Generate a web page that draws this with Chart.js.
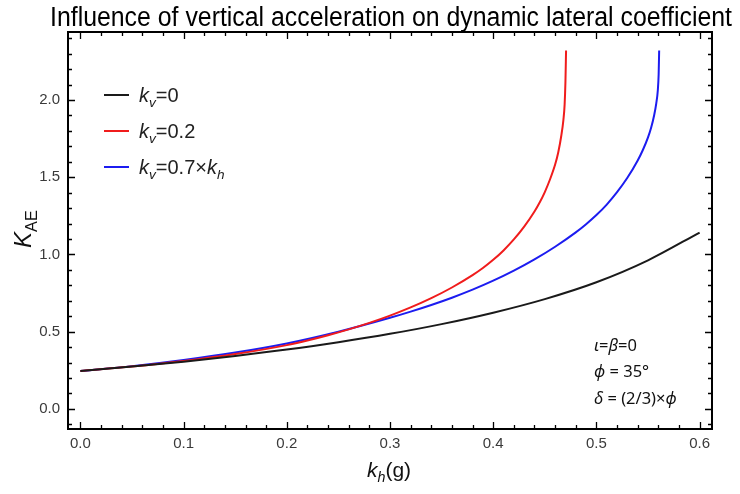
<!DOCTYPE html>
<html>
<head>
<meta charset="utf-8">
<script src="https://cdn.jsdelivr.net/npm/chart.js@4.4.1/dist/chart.umd.min.js"></script>
<style>
  html, body { margin: 0; padding: 0; background: #fff; }
  #wrap { width: 740px; height: 494px; }
</style>
</head>
<body>
<div id="wrap"><canvas id="chart" width="740" height="494"></canvas></div>
<script>
// kv = 0
var khBlack  = [0, 0.05, 0.1, 0.15, 0.2, 0.25, 0.3, 0.35, 0.4, 0.45, 0.5, 0.55, 0.6];
var kaeBlack = [0.245, 0.274, 0.306, 0.343, 0.384, 0.432, 0.486, 0.549, 0.623, 0.711, 0.82, 0.962, 1.142];

// kv = 0.2
var khRed  = [0, 0.05, 0.1, 0.15, 0.2, 0.22, 0.24, 0.26, 0.28, 0.3, 0.32, 0.34, 0.36, 0.38, 0.39, 0.4, 0.41, 0.42, 0.43, 0.44, 0.445, 0.45, 0.455, 0.46, 0.463, 0.466, 0.468, 0.4692, 0.47, 0.4706];
var kaeRed = [0.245, 0.274, 0.31, 0.355, 0.413, 0.443, 0.477, 0.515, 0.557, 0.604, 0.657, 0.717, 0.786, 0.866, 0.912, 0.965, 1.026, 1.097, 1.18, 1.278, 1.336, 1.404, 1.485, 1.582, 1.66, 1.77, 1.87, 1.97, 2.12, 2.32];

// kv = 0.7 x kh
var khBlue  = [0, 0.05, 0.1, 0.15, 0.2, 0.25, 0.3, 0.32, 0.34, 0.36, 0.38, 0.4, 0.42, 0.44, 0.46, 0.48, 0.49, 0.5, 0.51, 0.52, 0.53, 0.54, 0.545, 0.55, 0.553, 0.556, 0.558, 0.5595, 0.5603, 0.5608];
var kaeBlue = [0.245, 0.277, 0.317, 0.365, 0.424, 0.50, 0.59, 0.63, 0.673, 0.72, 0.772, 0.83, 0.895, 0.968, 1.05, 1.143, 1.196, 1.255, 1.323, 1.403, 1.496, 1.608, 1.676, 1.758, 1.82, 1.903, 1.978, 2.063, 2.165, 2.32];

var xTicks = [0, 0.1, 0.2, 0.3, 0.4, 0.5, 0.6];
var yTicks = [0, 0.5, 1.0, 1.5, 2.0];

var titleText = "Influence of vertical acceleration on dynamic lateral coefficient";

function pts(xs, ys) {
  return xs.map(function (x, i) { return { x: x, y: ys[i] }; });
}

// draws text made of parts, some italic and/or subscript
function drawRich(ctx, x, y, parts, size, family, align) {
  var w = 0;
  parts.forEach(function (p) {
    var s = p.sub ? size * 0.68 : size;
    ctx.font = (p.it ? "italic " : "") + s + "px " + family;
    p.w = ctx.measureText(p.t).width;
    w += p.w;
  });
  var cx = align === "center" ? x - w / 2 : x;
  parts.forEach(function (p) {
    var s = p.sub ? size * 0.68 : size;
    ctx.font = (p.it ? "italic " : "") + s + "px " + family;
    ctx.fillText(p.t, cx, y + (p.sub ? size * 0.26 : 0));
    cx += p.w;
  });
}

var framePlugin = {
  id: "frame",
  afterDraw: function (chart) {
    var ctx = chart.ctx, a = chart.chartArea;
    var sx = chart.scales.x, sy = chart.scales.y;
    ctx.save();
    ctx.strokeStyle = "#000";
    ctx.lineWidth = 1.3;
    // x ticks, bottom and top
    for (var i = 0; i <= 30; i++) {
      var px = Math.round(sx.getPixelForValue(i * 0.02)) + 0.5;
      var len = i % 5 === 0 ? 7 : 4;
      ctx.beginPath();
      ctx.moveTo(px, a.bottom); ctx.lineTo(px, a.bottom - len);
      ctx.moveTo(px, a.top); ctx.lineTo(px, a.top + len);
      ctx.stroke();
    }
    // y ticks, left and right
    for (var j = -1; j <= 24; j++) {
      var py = Math.round(sy.getPixelForValue(j * 0.1)) + 0.5;
      var ln = j % 5 === 0 ? 7 : 4;
      ctx.beginPath();
      ctx.moveTo(a.left, py); ctx.lineTo(a.left + ln, py);
      ctx.moveTo(a.right, py); ctx.lineTo(a.right - ln, py);
      ctx.stroke();
    }
    ctx.lineWidth = 2;
    ctx.strokeRect(a.left, a.top, a.right - a.left, a.bottom - a.top);

    // title, squeezed to the width of the reference
    ctx.fillStyle = "#000";
    ctx.textBaseline = "alphabetic";
    ctx.font = "27px 'Liberation Sans Narrow', 'Arial Narrow', 'Liberation Sans', sans-serif";
    var tw = ctx.measureText(titleText).width;
    var k = Math.min(1, 682 / tw);
    ctx.save();
    ctx.translate(391, 26);
    ctx.scale(k, 1);
    ctx.textAlign = "center";
    ctx.fillText(titleText, 0, 0);
    ctx.restore();
    ctx.textAlign = "left";

    // legend
    var fam = "'Liberation Sans', Arial, sans-serif";
    var legend = [
      [{ t: "k", it: true }, { t: "v", it: true, sub: true }, { t: "=0" }],
      [{ t: "k", it: true }, { t: "v", it: true, sub: true }, { t: "=0.2" }],
      [{ t: "k", it: true }, { t: "v", it: true, sub: true }, { t: "=0.7×" }, { t: "k", it: true }, { t: "h", it: true, sub: true }]
    ];
    var ly = [95, 131, 167];
    chart.data.datasets.forEach(function (ds, n) {
      ctx.strokeStyle = ds.borderColor;
      ctx.lineWidth = 2;
      ctx.beginPath();
      ctx.moveTo(104, ly[n]); ctx.lineTo(129, ly[n]);
      ctx.stroke();
      ctx.fillStyle = "#222";
      drawRich(ctx, 139, ly[n] + 7, legend[n], 20, fam, "left");
    });

    // axis titles
    ctx.fillStyle = "#111";
    drawRich(ctx, 389, 477, [{ t: "k", it: true }, { t: "h", it: true, sub: true }, { t: "(g)" }], 21, fam, "center");
    ctx.save();
    ctx.translate(31, 229);
    ctx.rotate(-Math.PI / 2);
    drawRich(ctx, 0, 0, [{ t: "K", it: true }, { t: "AE", sub: true }], 24, fam, "center");
    ctx.restore();

    // parameter notes
    var nf = "'Noto Sans', 'Open Sans', sans-serif";
    ctx.fillStyle = "#111";
    drawRich(ctx, 594, 351, [{ t: "ι", it: true }, { t: "=" }, { t: "β", it: true }, { t: "=0" }], 16.5, nf, "left");
    drawRich(ctx, 594, 377, [{ t: "ϕ", it: true }, { t: " = 35°" }], 16.5, nf, "left");
    drawRich(ctx, 594, 404, [{ t: "δ", it: true }, { t: " = (2/3)×" }, { t: "ϕ", it: true }], 16.5, nf, "left");
    ctx.restore();
  }
};

var tickFont = { family: "'Liberation Sans', Arial, sans-serif", size: 15 };

new Chart(document.getElementById("chart").getContext("2d"), {
  type: "line",
  data: {
    datasets: [
      { label: "kv=0", data: pts(khBlack, kaeBlack), borderColor: "#1a1a1a" },
      { label: "kv=0.2", data: pts(khRed, kaeRed), borderColor: "#f01c1c" },
      { label: "kv=0.7kh", data: pts(khBlue, kaeBlue), borderColor: "#1c1cf0" }
    ]
  },
  options: {
    responsive: false,
    animation: false,
    devicePixelRatio: 1,
    layout: { padding: { top: 32, right: 28, left: 0, bottom: 0 } },
    elements: {
      point: { radius: 0 },
      line: { borderWidth: 2, cubicInterpolationMode: "monotone", fill: false }
    },
    plugins: {
      legend: { display: false },
      title: { display: false },
      tooltip: { enabled: false }
    },
    scales: {
      x: {
        type: "linear",
        min: -0.012,
        max: 0.612,
        grid: { display: false, drawTicks: false },
        border: { display: false },
        ticks: {
          font: tickFont, color: "#3a3a3a", padding: 6,
          callback: function (v) { return v.toFixed(1); }
        },
        afterBuildTicks: function (s) { s.ticks = xTicks.map(function (v) { return { value: v }; }); },
        afterFit: function (s) { s.height = 65; }
      },
      y: {
        type: "linear",
        min: -0.13,
        max: 2.44,
        grid: { display: false, drawTicks: false },
        border: { display: false },
        ticks: {
          font: tickFont, color: "#3a3a3a", padding: 8,
          callback: function (v) { return v.toFixed(1); }
        },
        afterBuildTicks: function (s) { s.ticks = yTicks.map(function (v) { return { value: v }; }); },
        afterFit: function (s) { s.width = 68; }
      }
    }
  },
  plugins: [framePlugin]
});
</script>
</body>
</html>
